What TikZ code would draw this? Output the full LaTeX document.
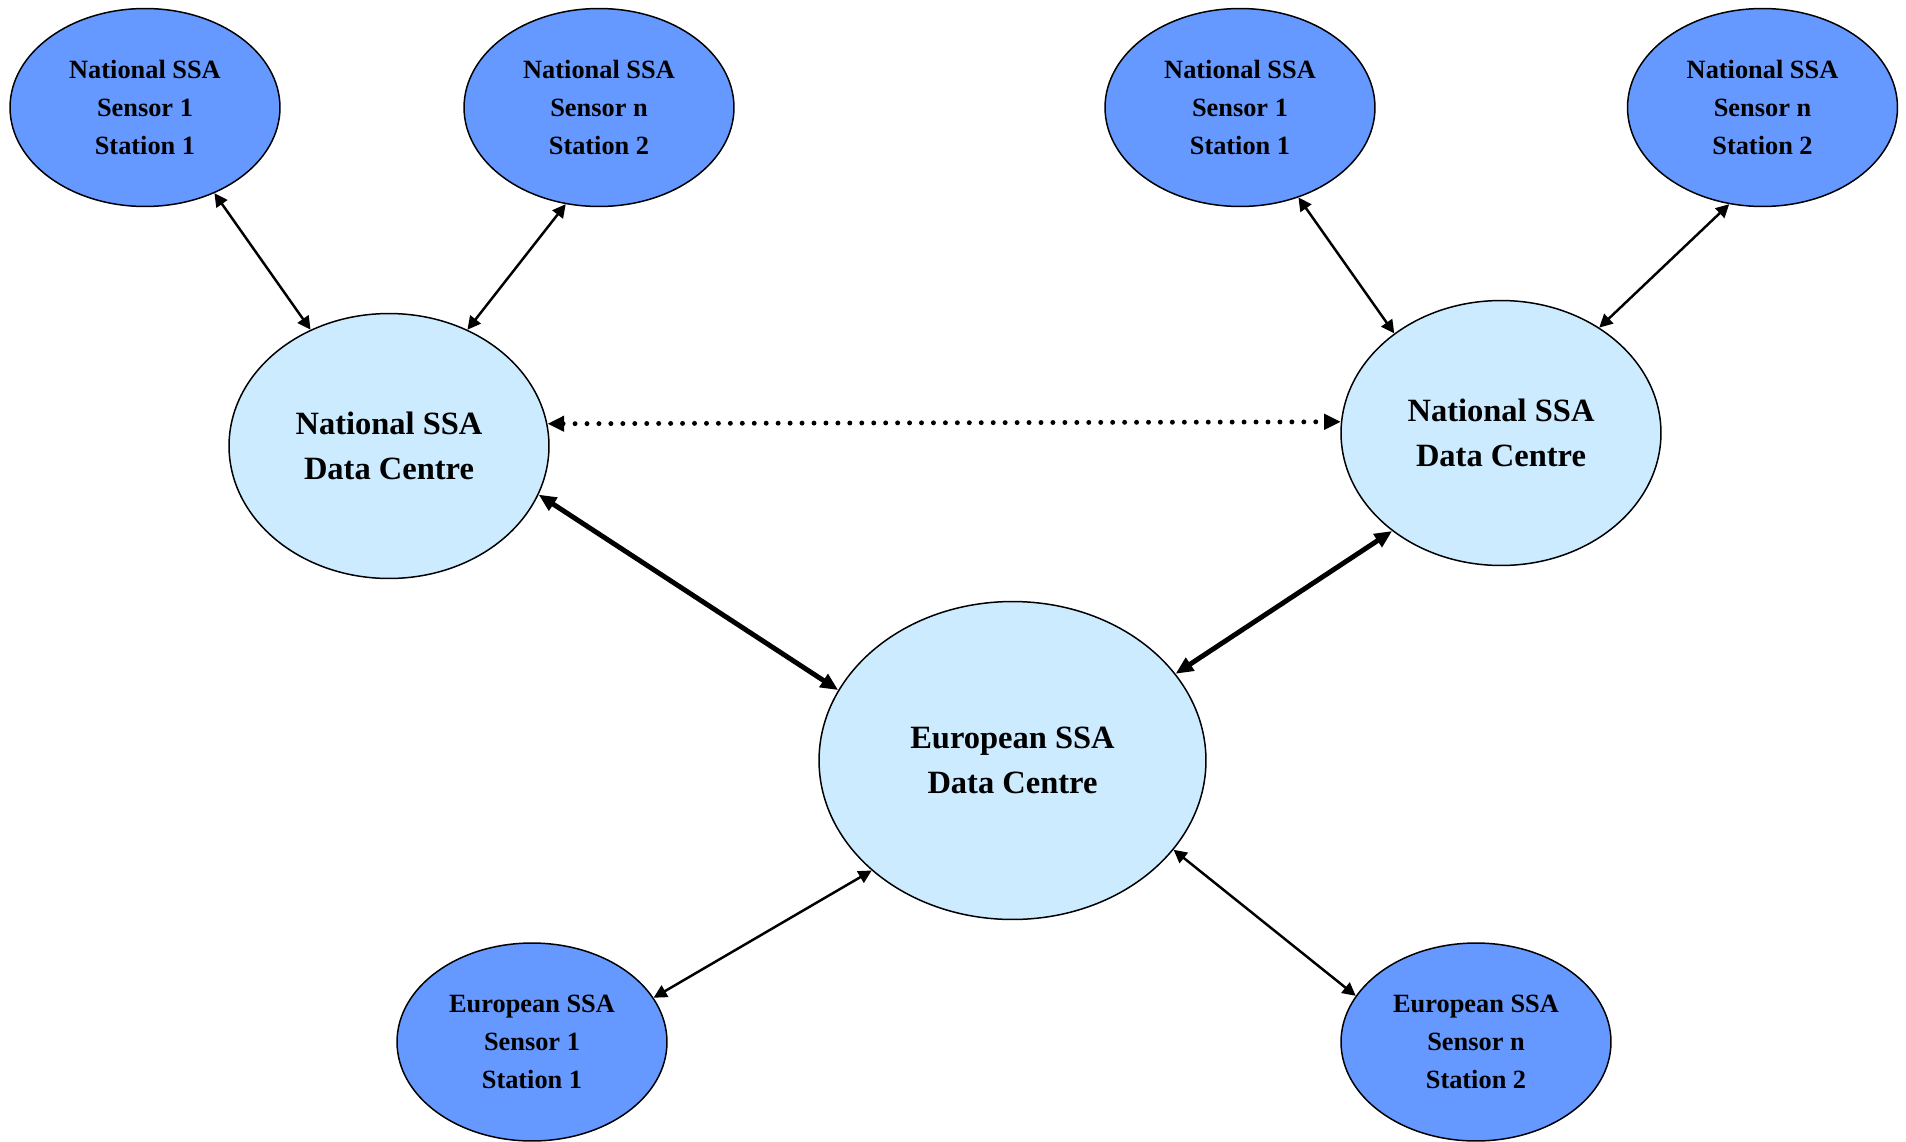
\documentclass[tikz,border=0pt]{standalone}
\usepackage{fontspec}
\setmainfont{Liberation Serif}
\usetikzlibrary{shapes.geometric,arrows.meta}
\definecolor{sensorblue}{RGB}{102,153,255}
\definecolor{centreblue}{RGB}{204,235,255}
\begin{document}
\begin{tikzpicture}[x=0.02cm,y=-0.02cm,
  sensor/.style={ellipse,draw=black,line width=0.85pt,fill=sensorblue,
    minimum width=5.4cm,minimum height=3.96cm,inner sep=0pt,align=center,
    font=\bfseries\fontsize{15}{21.8}\selectfont},
  centre/.style={ellipse,draw=black,line width=0.85pt,fill=centreblue,
    minimum width=6.4cm,minimum height=5.3cm,inner sep=0pt,align=center,
    font=\bfseries\fontsize{18.5}{26}\selectfont},
  thinlink/.style={line width=1.4pt,
    {Triangle[length=7.5pt,width=7.5pt]}-{Triangle[length=7.5pt,width=7.5pt]}},
  thicklink/.style={line width=2.8pt,
    {Triangle[length=10pt,width=8.5pt]}-{Triangle[length=10pt,width=8.5pt]}},
  dotlink/.style={line width=2.8pt,line cap=round,dash pattern=on 0pt off 6.8pt,
    {Triangle[length=9.5pt,width=8.5pt]}-{Triangle[length=9.5pt,width=8.5pt]}}]
\useasboundingbox (0,0) rectangle (1906,1142);

% national sensors, left group
\node[sensor] (a1) at (145,107.5) {National SSA\\Sensor 1\\Station 1};
\node[sensor] (a2) at (599,107.5) {National SSA\\Sensor n\\Station 2};
% national sensors, right group
\node[sensor] (b1) at (1240,107.5) {National SSA\\Sensor 1\\Station 1};
\node[sensor] (b2) at (1762.5,107.5) {National SSA\\Sensor n\\Station 2};

% data centres
\node[centre] (ln) at (389,446) {National SSA\\Data Centre};
\node[centre] (rn) at (1501,433) {National SSA\\Data Centre};
\node[centre,minimum width=7.74cm,minimum height=6.36cm] (eu) at (1012.5,760.5) {European SSA\\Data Centre};

% european sensors
\node[sensor] (c1) at (532,1042) {European SSA\\Sensor 1\\Station 1};
\node[sensor] (c2) at (1476,1042) {European SSA\\Sensor n\\Station 2};

% sensor links
\draw[thinlink] (a1.-51) -- (ln.124);
\draw[thinlink] (a2.-109) -- (ln.56.5);
\draw[thinlink] (b1.-57.6) -- (rn.137.2);
\draw[thinlink] (b2.-109.5) -- (rn.47.6);
\draw[thinlink] (eu.-142.4) -- (c1.20);
\draw[thinlink] (eu.-29.7) -- (c2.159.3);

% centre links
\draw[dotlink] (ln.8.1) -- (rn.176.4);
\draw[thicklink] (ln.-18.2) -- (eu.158.6);
\draw[thicklink] (rn.-138.6) -- (eu.28.8);
\end{tikzpicture}
\end{document}
